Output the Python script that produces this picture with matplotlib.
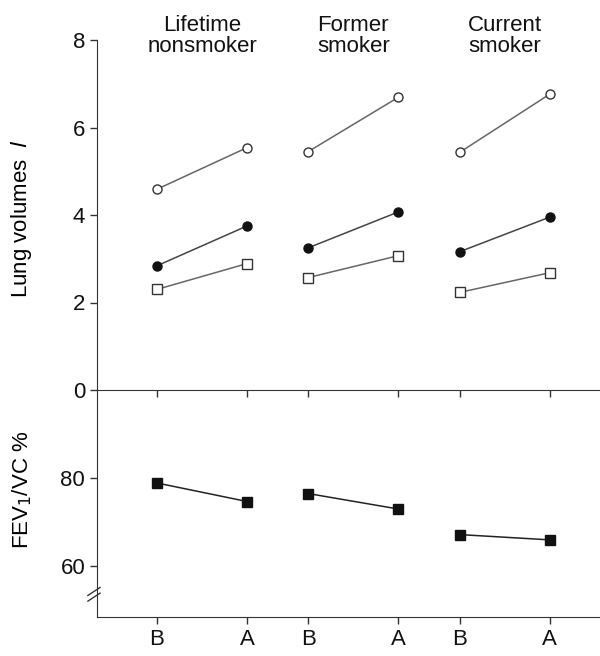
import matplotlib
matplotlib.use("Agg")
import matplotlib.pyplot as plt
from matplotlib import font_manager

fams = {f.name for f in font_manager.fontManager.ttflist}
FONT = "Liberation Sans Narrow" if "Liberation Sans Narrow" in fams else "Liberation Sans"
plt.rcParams['font.family'] = [FONT, 'DejaVu Sans']

groups = ["Lifetime\nnonsmoker", "Former\nsmoker", "Current\nsmoker"]
time_labels = ["B", "A"]

# Lung volumes (l): [B, A] per group
open_circle = [[4.59, 5.54], [5.45, 6.69], [5.43, 6.76]]
filled_circle = [[2.84, 3.75], [3.25, 4.07], [3.16, 3.95]]
open_square = [[2.30, 2.89], [2.57, 3.07], [2.23, 2.68]]
# FEV1/VC %
fev_ratio = [[78.9, 74.7], [76.5, 73.0], [67.2, 66.0]]

group_step = 1.68
W, H = 600, 656
fig = plt.figure(figsize=(W / 100, H / 100), dpi=100)
left = 97 / W
ax2 = fig.add_axes([left, 1 - 617 / H, 1 - left, (617 - 390) / H])
ax1 = fig.add_axes([left, 1 - 390 / H, 1 - left, (390 - 40) / H])
ax1.patch.set_visible(False)
ax2.patch.set_visible(False)

xs = []
for g in range(len(groups)):
    x = [g * group_step, g * group_step + 1]
    xs += x
    ax1.plot(x, open_circle[g], '-', color='#666666', lw=1.1, marker='o', ms=6.5,
             mfc='white', mec='#333333', mew=1.0)
    ax1.plot(x, filled_circle[g], '-', color='#444444', lw=1.1, marker='o', ms=6.5,
             mfc='#111111', mec='#111111')
    ax1.plot(x, open_square[g], '-', color='#666666', lw=1.1, marker='s', ms=6.5,
             mfc='white', mec='#333333', mew=1.0)
    ax2.plot(x, fev_ratio[g], '-', color='#222222', lw=1.1, marker='s', ms=7.5,
             mfc='#111111', mec='#111111')
    ax1.text(g * group_step + 0.5, 8.1, groups[g], ha='center', va='center',
             fontsize=16, linespacing=1.0, color='#111111', clip_on=False)

xlim = (-0.667, 4.92)
for ax in (ax1, ax2):
    ax.set_xlim(*xlim)
    for s in ('top', 'right'):
        ax.spines[s].set_visible(False)
    ax.set_xticks(xs)
    ax.tick_params(axis='both', direction='out', length=5, width=1.0,
                   color='#333333', labelsize=16, labelcolor='#111111')

ax1.set_ylim(0, 8)
ax1.set_yticks([0, 2, 4, 6, 8])
ax1.set_xticklabels([])
ax1.spines['bottom'].set_color('#333333')
ax1.spines['left'].set_color('#333333')
ax1.set_ylabel("Lung volumes  $\\it{l}$", fontsize=16)

ax2.set_ylim(48.5, 100)
ax2.set_yticks([60, 80])
ax2.spines['left'].set_color('#333333')
ax2.spines['bottom'].set_color('#333333')
ax2.set_xticklabels(time_labels * len(groups))
ax2.set_ylabel("FEV$_1$/VC %", fontsize=16)
ax2.yaxis.set_label_coords(-0.125, 0.56)
ax1.yaxis.set_label_coords(-0.125, 0.49)

# axis break marks on the left spine
for dy in (0.0, 0.025):
    ax2.plot([-0.018, 0.006], [0.07 + dy, 0.105 + dy], transform=ax2.transAxes,
             color='#333333', lw=1.0, clip_on=False)

fig.savefig("out.png", dpi=100)
